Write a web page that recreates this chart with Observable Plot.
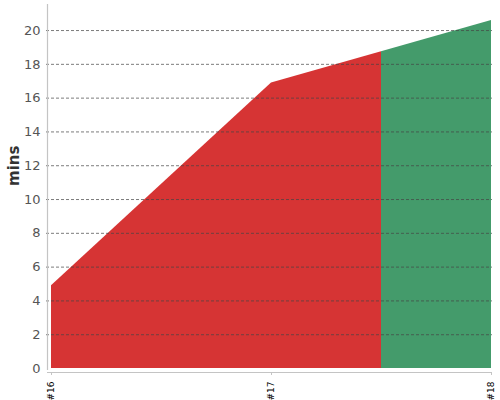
<!DOCTYPE html>
<html>
<head>
<meta charset="utf-8">
<script src="https://cdn.jsdelivr.net/npm/d3@7"></script>
<script src="https://cdn.jsdelivr.net/npm/@observablehq/plot@0.6"></script>
<style>
  html, body { margin: 0; padding: 0; background: #fff; }
  #chart { width: 500px; height: 400px; }
  svg { font-family: "DejaVu Sans", sans-serif; }
</style>
</head>
<body>
<div id="chart"></div>
<script>
// Data
const buildNums = [16, 17, 18];
const buildLabels = ["#16", "#17", "#18"];
const mins = [4.9, 16.9, 20.6];
const splitAt = 17.5;          // build position where colour changes
const colorBefore = "#d63434";
const colorAfter = "#449b6b";
const yTicks = [0, 2, 4, 6, 8, 10, 12, 14, 16, 18, 20];

const data = buildNums.map((b, i) => ({build: b, label: buildLabels[i], mins: mins[i]}));

const plot = Plot.plot({
  width: 500,
  height: 400,
  marginLeft: 51,
  marginRight: 9,
  marginTop: 3,
  marginBottom: 32,
  style: {fontFamily: "DejaVu Sans, sans-serif", background: "#fff"},
  x: {domain: [16, 18], axis: null},
  y: {domain: [0, 21.6], axis: null},
  marks: [
    Plot.areaY(data, {x: "build", y: "mins", fill: colorBefore, curve: "linear"}),
    Plot.gridY(yTicks.filter(d => d > 0), {stroke: "#444", strokeOpacity: 0.7, strokeDasharray: "3,2", insetLeft: -5, insetRight: -1}),
    Plot.ruleX([16], {dx: -4, stroke: "#c4c4c4", strokeWidth: 1.2, insetTop: 1, insetBottom: -2}),
    Plot.ruleY([0], {dy: 4, stroke: "#c4c4c4", strokeWidth: 1.2, insetLeft: -4, insetRight: -1}),
    Plot.axisY({ticks: yTicks, tickSize: 0, tickPadding: 11, fontSize: 13, color: "#555", label: null}),
    Plot.axisX({ticks: buildNums, tickFormat: d => buildLabels[buildNums.indexOf(d)], tickSize: 3, dy: 4, stroke: "#c4c4c4", tickRotate: -90, fontSize: 9, color: "#000", label: null}),
    Plot.text(["mins"], {frameAnchor: "left", rotate: -90, dx: -37, fontSize: 15, fill: "#333", fontWeight: "bold"})
  ]
});

// split-colour gradient computed from the x scale
const xs = plot.scale("x");
const x0 = xs.apply(buildNums[0]);
const x1 = xs.apply(buildNums[buildNums.length - 1]);
const f = (xs.apply(splitAt) - x0) / (x1 - x0);
const ns = "http://www.w3.org/2000/svg";
const defs = document.createElementNS(ns, "defs");
const grad = document.createElementNS(ns, "linearGradient");
grad.setAttribute("id", "split");
grad.setAttribute("gradientUnits", "userSpaceOnUse");
grad.setAttribute("x1", x0); grad.setAttribute("x2", x1);
grad.setAttribute("y1", 0); grad.setAttribute("y2", 0);
[[0, colorBefore], [f, colorBefore], [f, colorAfter], [1, colorAfter]].forEach(([o, c]) => {
  const s = document.createElementNS(ns, "stop");
  s.setAttribute("offset", o);
  s.setAttribute("stop-color", c);
  grad.appendChild(s);
});
defs.appendChild(grad);
plot.insertBefore(defs, plot.firstChild);
const areaG = plot.querySelector('g[aria-label="area"]');
areaG.setAttribute("fill", "url(#split)");
areaG.querySelectorAll("path").forEach(p => p.setAttribute("fill", "url(#split)"));

document.getElementById("chart").appendChild(plot);
</script>
</body>
</html>
